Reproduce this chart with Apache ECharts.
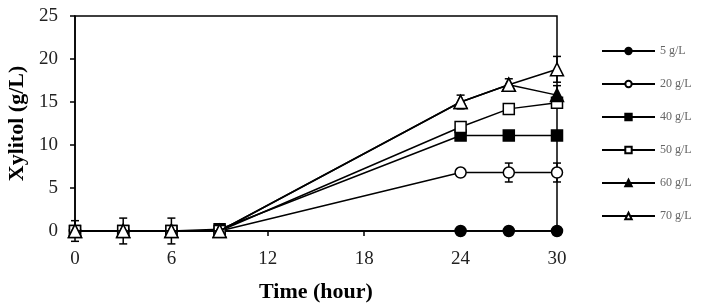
<!DOCTYPE html>
<html>
<head>
<meta charset="utf-8">
<script src="https://cdn.jsdelivr.net/npm/echarts@6/dist/echarts.min.js"></script>
<style>
  html, body { margin: 0; padding: 0; background: #fff; }
  #main { width: 702px; height: 308px; }
</style>
</head>
<body>
<div id="main"></div>
<script>
// sampling times (hour)
var times = [0, 3, 6, 9, 24, 27, 30];
var xTicks = [0, 6, 12, 18, 24, 30];

// xylitol (g/L) for each initial xylose level
var names = ['5 g/L', '20 g/L', '40 g/L', '50 g/L', '60 g/L', '70 g/L'];
var s5  = [0, 0, 0, 0, 0, 0, 0];
var s20 = [0, 0, 0, 0, 6.8, 6.8, 6.8];
var s40 = [0, 0, 0, 0.2, 11.1, 11.1, 11.1];
var s50 = [0, 0, 0, 0, 12.1, 14.2, 14.9];
var s60 = [0, 0, 0, 0, 15, 17, 15.8];
var s70 = [0, 0, 0, 0, 15, 17, 18.8];

// error (± g/L)
var err20 = [0, 0, 0, 0, 0, 1.1, 1.1];
var err60 = [0, 0, 0, 0, 0, 0, 1.1];
var err70 = [1.2, 1.5, 1.5, 0, 0.8, 0.7, 1.5];

var myChart = echarts.init(document.getElementById('main'));

function pairs(vals) {
  return times.map(function (t, i) { return [t, vals[i]]; });
}
function errData(vals, errs) {
  var out = [];
  times.forEach(function (t, i) {
    if (errs[i] > 0) out.push([t, vals[i] - errs[i], vals[i] + errs[i]]);
  });
  return out;
}

var serif = 'Liberation Serif';
var styles = [
  { symbol: 'circle', size: 11, fill: '#000' },
  { symbol: 'circle', size: 11, fill: '#fff' },
  { symbol: 'rect', size: 11, fill: '#000' },
  { symbol: 'rect', size: 11, fill: '#fff' },
  { symbol: 'triangle', size: 13, fill: '#000' },
  { symbol: 'triangle', size: 13, fill: '#fff' }
];
var allData = [s5, s20, s40, s50, s60, s70];

var series = [{
  type: 'custom',
  name: 'err',
  z: 1,
  data: errData(s20, err20).concat(errData(s60, err60), errData(s70, err70)),
  renderItem: function (params, api) {
    var lo = api.coord([api.value(0), api.value(1)]);
    var hi = api.coord([api.value(0), api.value(2)]);
    var w = 4;
    var st = { stroke: '#000', lineWidth: 1.5 };
    return {
      type: 'group',
      children: [
        { type: 'line', shape: { x1: hi[0], y1: hi[1], x2: lo[0], y2: lo[1] }, style: st },
        { type: 'line', shape: { x1: hi[0] - w, y1: hi[1], x2: hi[0] + w, y2: hi[1] }, style: st },
        { type: 'line', shape: { x1: lo[0] - w, y1: lo[1], x2: lo[0] + w, y2: lo[1] }, style: st }
      ]
    };
  }
}];

names.forEach(function (n, i) {
  series.push({
    name: n,
    type: 'line',
    z: 2 + i,
    data: pairs(allData[i]),
    symbol: styles[i].symbol,
    symbolSize: styles[i].size,
    showAllSymbol: true,
    lineStyle: { color: '#000', width: 1.5 },
    itemStyle: { color: styles[i].fill, borderColor: '#000', borderWidth: 1.5 }
  });
});

var option = {
  backgroundColor: '#fff',
  animation: false,
  grid: {
    left: 75, right: 145, top: 16, bottom: 77,
    containLabel: false, outerBoundsMode: 'none',
    show: true, borderColor: '#000', borderWidth: 1.5
  },
  legend: {
    data: names,
    orient: 'vertical',
    left: 596,
    top: 40,
    itemWidth: 53,
    itemHeight: 8,
    itemGap: 21,
    textStyle: { fontFamily: serif, fontSize: 12, color: '#666' }
  },
  xAxis: {
    type: 'value',
    min: 0, max: 30, interval: 6,
    name: 'Time (hour)',
    nameLocation: 'middle',
    nameGap: 50,
    nameTextStyle: { fontFamily: serif, fontSize: 22, fontWeight: 'bold', color: '#000' },
    axisLine: { lineStyle: { color: '#000', width: 1.5 } },
    axisTick: { inside: false, length: 5, lineStyle: { color: '#000', width: 1.5 } },
    axisLabel: {
      fontFamily: serif, fontSize: 19, color: '#222', margin: 19,
      formatter: function (v) { return xTicks.indexOf(v) >= 0 ? String(v) : ''; }
    },
    splitLine: { show: false }
  },
  yAxis: {
    type: 'value',
    min: 0, max: 25, interval: 5,
    name: 'Xylitol (g/L)',
    nameLocation: 'middle',
    nameGap: 45,
    nameTextStyle: { fontFamily: serif, fontSize: 22, fontWeight: 'bold', color: '#000' },
    axisLine: { show: true, lineStyle: { color: '#000', width: 1.5 } },
    axisTick: { show: true, inside: false, length: 5, lineStyle: { color: '#000', width: 1.5 } },
    axisLabel: { fontFamily: serif, fontSize: 19, color: '#222', margin: 17 },
    splitLine: { show: false }
  },
  series: series
};
myChart.setOption(option);
</script>
</body>
</html>
